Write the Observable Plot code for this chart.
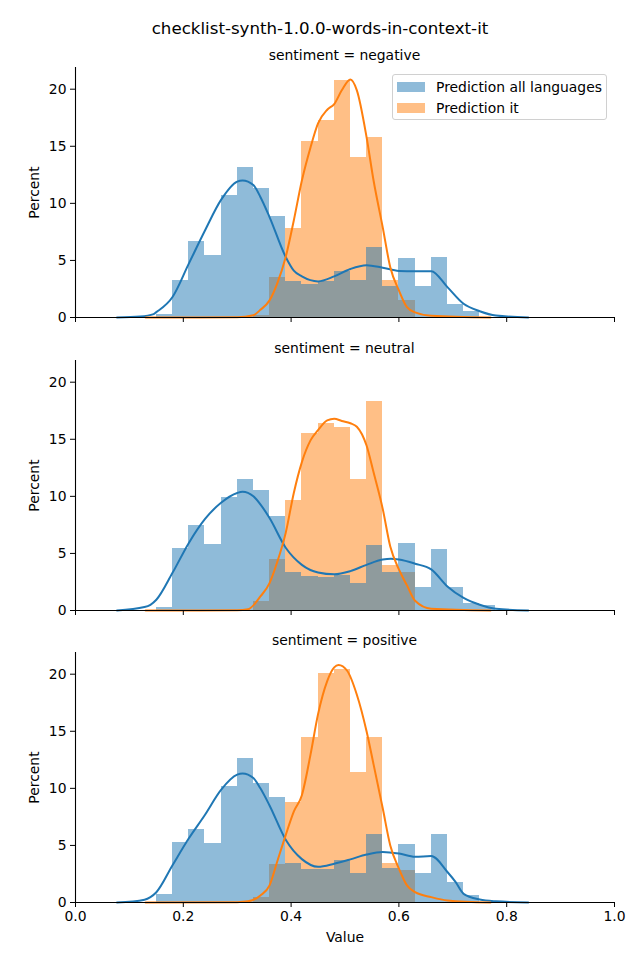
<!DOCTYPE html>
<html><head><meta charset="utf-8">
<script src="https://cdn.jsdelivr.net/npm/d3@7"></script>
<script src="https://cdn.jsdelivr.net/npm/@observablehq/plot@0.6"></script>
<style>
body{margin:0;background:#fff;font-family:"DejaVu Sans",sans-serif;color:#000;}
#fig{position:relative;width:640px;height:960px;overflow:hidden;}
.abs{position:absolute;}
.title{left:0;width:640px;text-align:center;font-size:16.67px;line-height:20px;}
.ftitle{left:75px;width:539px;text-align:center;font-size:13.9px;line-height:16px;}
.legend{border:1px solid #d0d0d0;border-radius:3px;background:rgba(255,255,255,0.8);box-sizing:border-box;font-size:13.9px;}
.legend .row{position:absolute;left:4px;height:16px;line-height:16px;white-space:nowrap;}
.legend .sw{position:absolute;left:0;top:3px;width:28px;height:10px;}
.legend .lb{position:absolute;left:39px;top:0;}
</style></head><body><div id="fig"></div><script>
const figTitle = "checklist-synth-1.0.0-words-in-context-it";
const sentiments = ["negative", "neutral", "positive"];
const seriesNames = ["Prediction all languages", "Prediction it"];
const seriesColors = ["#1f77b4", "#ff7f0e"];
const xTicks = [0, 0.2, 0.4, 0.6, 0.8, 1.0];
const yTicks = [0, 5, 10, 15, 20];

// histogram bins (left edges), shared bin width
const binLefts = [0.15,0.18,0.21,0.24,0.27,0.30,0.33,0.36,0.39,0.42,0.45,0.48,0.51,0.54,0.57,0.60,0.63,0.66,0.69,0.72,0.75];
const binWidth = 0.03;

// percent per bin
const negAll = [0.23,3.25,6.67,5.41,10.7,13.16,11.3,8.86,3.19,2.9,3.19,4.04,3.25,6.14,2.72,5.18,2.72,5.26,1.14,0.56,0];
const negIt  = [0,0,0,0,0,0,0.2,3.5,7.78,15.4,17.3,20.8,14.0,15.8,3.25,1.49,0,0,0,0,0];
const neuAll = [0.26,5.45,7.48,5.8,9.94,11.5,10.47,8.27,3.34,2.99,2.93,3.1,2.35,5.72,3.34,5.9,2.05,5.37,2.05,0.62,0.41];
const neuIt  = [0,0,0,0,0,0,0.76,4.49,9.6,15.5,16.4,16.0,11.5,18.3,3.96,3.34,0,0,0,0,0];
const posAll = [0.7,5.29,6.43,5.2,10.13,12.6,10.4,9.16,3.44,2.9,2.9,3.7,2.55,5.99,3.0,5.11,2.55,5.99,1.76,0.62,0];
const posIt  = [0,0,0,0,0,0,0.4,3.35,8.75,14.45,20.1,20.4,11.4,14.45,3.44,2.82,0,0,0,0,0];

// density curves
const negAllKdeX = [0.077,0.12,0.145,0.15,0.18,0.21,0.24,0.27,0.30,0.31,0.33,0.343,0.36,0.39,0.405,0.42,0.45,0.48,0.51,0.54,0.57,0.60,0.63,0.66,0.69,0.72,0.75,0.78,0.84];
const negAllKdeY = [0,0.08,0.3,0.47,1.8,4.7,7.6,10.3,11.9,12.0,11.6,10.56,8.8,5.3,4.1,3.6,3.16,3.6,4.25,4.58,4.36,4.08,4.05,4.06,2.66,1.2,0.55,0.17,0];
const negItKdeX  = [0.13,0.30,0.33,0.343,0.36,0.374,0.39,0.405,0.42,0.436,0.45,0.467,0.48,0.494,0.51,0.522,0.54,0.553,0.57,0.584,0.60,0.615,0.63,0.66,0.77];
const negItKdeY  = [0,0.02,0.2,0.67,1.5,2.95,5.3,8.5,12.0,14.9,17.0,18.2,18.7,19.9,20.85,19.9,15.8,12.0,7.9,4.4,2.37,0.9,0.45,0.15,0];
const neuAllKdeX = [0.077,0.128,0.139,0.15,0.18,0.21,0.24,0.27,0.30,0.31,0.33,0.343,0.36,0.39,0.42,0.45,0.48,0.51,0.54,0.57,0.585,0.60,0.63,0.66,0.69,0.72,0.75,0.78,0.84];
const neuAllKdeY = [0,0.3,0.5,0.94,3.3,5.9,8.0,9.44,10.3,10.4,10.0,9.3,8.1,5.5,4.0,3.33,3.17,3.45,4.0,4.46,4.53,4.46,4.1,3.6,2.1,1.1,0.5,0.15,0];
const neuItKdeX  = [0.13,0.30,0.32,0.343,0.36,0.374,0.39,0.405,0.42,0.436,0.45,0.467,0.48,0.494,0.51,0.522,0.54,0.553,0.57,0.584,0.60,0.615,0.63,0.66,0.77];
const neuItKdeY  = [0,0.02,0.1,1.23,2.4,4.2,6.8,10.3,13.0,14.9,15.8,16.65,16.8,16.6,16.4,16.1,14.45,12.1,8.9,5.6,3.6,2.2,0.85,0.15,0];
const posAllKdeX = [0.077,0.128,0.139,0.15,0.18,0.21,0.24,0.27,0.30,0.31,0.33,0.343,0.36,0.39,0.42,0.45,0.48,0.51,0.54,0.57,0.60,0.63,0.66,0.69,0.705,0.72,0.75,0.78,0.84];
const posAllKdeY = [0,0.25,0.47,0.9,3.26,5.6,7.67,9.87,11.2,11.3,10.9,10.0,8.5,5.5,3.8,3.13,3.4,3.78,4.2,4.43,4.29,4.0,4.08,2.67,1.8,0.76,0.26,0.1,0];
const posItKdeX  = [0.13,0.30,0.32,0.343,0.36,0.374,0.39,0.405,0.42,0.436,0.45,0.467,0.48,0.488,0.504,0.522,0.54,0.553,0.57,0.584,0.60,0.615,0.63,0.66,0.69,0.77];
const posItKdeY  = [0,0.03,0.1,0.62,1.5,3.55,5.9,7.96,9.4,12.95,16.5,19.4,20.6,20.8,20.3,18.2,15.0,12.1,8.25,5.0,2.97,1.5,0.9,0.47,0.18,0];

const panels = [
  {all: negAll, it: negIt, akx: negAllKdeX, aky: negAllKdeY, ikx: negItKdeX, iky: negItKdeY},
  {all: neuAll, it: neuIt, akx: neuAllKdeX, aky: neuAllKdeY, ikx: neuItKdeX, iky: neuItKdeY},
  {all: posAll, it: posIt, akx: posAllKdeX, aky: posAllKdeY, ikx: posItKdeX, iky: posItKdeY}
];

const fig = document.getElementById("fig");
const frameTops = [67, 360, 652];
const frameH = 250;
const mTop = 5;

function div(cls, text, style) {
  const d = document.createElement("div");
  d.className = "abs " + cls;
  if (text != null) d.textContent = text;
  Object.assign(d.style, style || {});
  fig.appendChild(d);
  return d;
}

div("title", figTitle, {top: "19px"});

panels.forEach((p, i) => {
  const last = i === panels.length - 1;
  const mBottom = last ? 45 : 10;
  const bars = (vals) => binLefts.map((x, k) => ({x1: x, x2: x + binWidth, y: vals[k]}));
  const pts = (xs, ys) => xs.map((x, k) => ({x, y: ys[k]}));
  const plot = Plot.plot({
    width: 640,
    height: mTop + frameH + mBottom,
    marginLeft: 75, marginRight: 26, marginTop: mTop, marginBottom: mBottom,
    style: {fontFamily: "DejaVu Sans, sans-serif", fontSize: "13.9px", background: "transparent", color: "#000"},
    x: {domain: [0, 1]},
    y: {domain: [0, 21.9]},
    marks: [
      Plot.rect(bars(p.it), {x1: "x1", x2: "x2", y1: () => 0, y2: "y", fill: seriesColors[1], fillOpacity: 0.5, shapeRendering: "crispEdges"}),
      Plot.rect(bars(p.all), {x1: "x1", x2: "x2", y1: () => 0, y2: "y", fill: seriesColors[0], fillOpacity: 0.5, shapeRendering: "crispEdges"}),
      Plot.line(pts(p.akx, p.aky), {x: "x", y: "y", stroke: seriesColors[0], strokeWidth: 2, curve: "monotone-x"}),
      Plot.line(pts(p.ikx, p.iky), {x: "x", y: "y", stroke: seriesColors[1], strokeWidth: 2, curve: "monotone-x"}),
      Plot.ruleX([0], {stroke: "#000", strokeWidth: 1.1}),
      Plot.ruleY([0], {stroke: "#000", strokeWidth: 1.1}),
      Plot.axisY({ticks: yTicks, tickSize: 5, tickPadding: 4, label: "Percent", labelAnchor: "center", labelArrow: "none", labelOffset: 46}),
      last
        ? Plot.axisX({ticks: xTicks, tickSize: 5, tickPadding: 4, tickFormat: d3.format(".1f"), label: "Value", labelAnchor: "center", labelArrow: "none", labelOffset: 39})
        : Plot.axisX({ticks: xTicks, tickSize: 5, tickFormat: () => "", label: null})
    ]
  });
  plot.style.position = "absolute";
  plot.style.left = "0px";
  plot.style.top = (frameTops[i] - mTop) + "px";
  fig.appendChild(plot);
  div("ftitle", "sentiment = " + sentiments[i], {top: (frameTops[i] - 20) + "px"});
});

const lg = div("legend", null, {left: "392px", top: "74px", width: "215px", height: "46px"});
seriesNames.forEach((name, k) => {
  const r = document.createElement("div");
  r.className = "row";
  r.style.top = (k === 0 ? 4 : 25) + "px";
  const sw = document.createElement("div");
  sw.className = "sw";
  sw.style.background = seriesColors[k];
  sw.style.opacity = 0.5;
  const lb = document.createElement("div");
  lb.className = "lb";
  lb.textContent = name;
  r.appendChild(sw); r.appendChild(lb);
  lg.appendChild(r);
});
</script></body></html>
